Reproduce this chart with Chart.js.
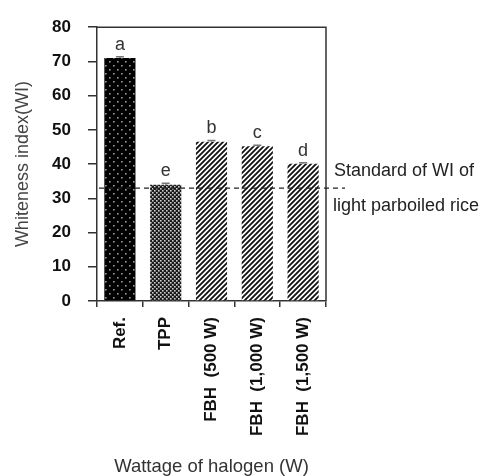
<!DOCTYPE html>
<html>
<head>
<meta charset="utf-8">
<script src="https://cdn.jsdelivr.net/npm/chart.js@4"></script>
<style>
  html, body { margin: 0; padding: 0; background: #fff; }
  #wrap { width: 481px; height: 476px; position: relative; }
</style>
</head>
<body>
<div id="wrap"><canvas id="grafico"></canvas></div>
<script>
// ===== DADOS =====
const categorias = ['Ref.', 'TPP', 'FBH  (500 W)', 'FBH  (1,000 W)', 'FBH  (1,500 W)'];
const valores    = [71.0, 34.0, 46.5, 45.2, 40.1];
const erros      = [0.4, 0.4, 0.4, 0.3, 0.3];
const letras     = ['a', 'e', 'b', 'c', 'd'];
const padraoWI   = 33;
const textoPadrao = ['Standard of WI of', 'light parboiled rice'];
const yTicks     = [0, 10, 20, 30, 40, 50, 60, 70, 80];

const FONTE = '"Liberation Sans", Arial, sans-serif';
const COR_EIXO = '#333';

// ===== PADRÕES (hachuras) =====
function tile(w, h, desenha) {
  const c = document.createElement('canvas');
  c.width = w; c.height = h;
  const g = c.getContext('2d');
  desenha(g);
  return c;
}

function padraoPontos(ctx) {
  // fundo preto com pontos cinza claros alternados
  const t = tile(8, 8, g => {
    g.fillStyle = '#000'; g.fillRect(0, 0, 8, 8);
    g.fillStyle = '#9a9a9a';
    g.fillRect(1, 1, 1.6, 1.6);
    g.fillRect(5, 5, 1.6, 1.6);
  });
  return ctx.createPattern(t, 'repeat');
}

function padraoDenso(ctx) {
  const t = tile(4, 4, g => {
    g.fillStyle = '#1a1a1a'; g.fillRect(0, 0, 4, 4);
    g.fillStyle = '#d0d0d0';
    g.fillRect(0, 0, 1.6, 1.6);
    g.fillRect(2, 2, 1.6, 1.6);
  });
  return ctx.createPattern(t, 'repeat');
}

function padraoListras(ctx) {
  const t = tile(5, 5, g => {
    g.fillStyle = '#fff'; g.fillRect(0, 0, 5, 5);
    g.strokeStyle = '#111';
    g.lineWidth = 1.8;
    g.beginPath();
    g.moveTo(-1, 6); g.lineTo(6, -1);
    g.moveTo(-1, 1); g.lineTo(1, -1);
    g.moveTo(4, 6); g.lineTo(6, 4);
    g.stroke();
  });
  return ctx.createPattern(t, 'repeat');
}

// ===== PLUGIN: letras, erro, linha padrão, moldura =====
const extras = {
  id: 'extras',
  afterDatasetsDraw(chart) {
    const ctx = chart.ctx;
    const { left, right, top, bottom } = chart.chartArea;
    const y = chart.scales.y;
    const meta = chart.getDatasetMeta(0);

    ctx.save();
    // moldura (topo e direita)
    ctx.strokeStyle = COR_EIXO;
    ctx.lineWidth = 1.5;
    ctx.beginPath();
    ctx.moveTo(left, top);
    ctx.lineTo(right, top);
    ctx.lineTo(right, bottom);
    ctx.stroke();

    // barras de erro + letras
    meta.data.forEach((bar, i) => {
      const yTop = y.getPixelForValue(valores[i] + erros[i]);
      const yVal = y.getPixelForValue(valores[i]);
      ctx.strokeStyle = '#777';
      ctx.lineWidth = 1.5;
      ctx.beginPath();
      ctx.moveTo(bar.x - 4, yTop);
      ctx.lineTo(bar.x + 4, yTop);
      ctx.moveTo(bar.x, yTop);
      ctx.lineTo(bar.x, yVal);
      ctx.stroke();

      ctx.fillStyle = '#333';
      ctx.font = '18px ' + FONTE;
      ctx.textAlign = 'center';
      ctx.textBaseline = 'alphabetic';
      ctx.fillText(letras[i], bar.x, yTop - 7);
    });

    // linha tracejada do padrão
    const yp = y.getPixelForValue(padraoWI);
    ctx.strokeStyle = '#222';
    ctx.lineWidth = 1.3;
    ctx.setLineDash([5, 4]);
    ctx.beginPath();
    ctx.moveTo(left + 2, yp);
    ctx.lineTo(right + 19, yp);
    ctx.stroke();
    ctx.setLineDash([]);

    // texto ao lado
    ctx.fillStyle = '#222';
    ctx.font = '18px ' + FONTE;
    ctx.textAlign = 'left';
    ctx.textBaseline = 'middle';
    ctx.fillText(textoPadrao[0], right + 8, yp - 17);
    ctx.fillText(textoPadrao[1], right + 7, yp + 18);
    ctx.restore();
  }
};

// ===== GRÁFICO =====
const canvas = document.getElementById('grafico');
const ctx = canvas.getContext('2d');
const fundos = [padraoPontos(ctx), padraoDenso(ctx), padraoListras(ctx), padraoListras(ctx), padraoListras(ctx)];

new Chart(ctx, {
  type: 'bar',
  data: {
    labels: categorias,
    datasets: [{
      data: valores,
      backgroundColor: fundos,
      borderWidth: 0,
      barPercentage: 0.68,
      categoryPercentage: 1.0,
    }]
  },
  options: {
    responsive: true,
    maintainAspectRatio: false,
    animation: false,
    events: [],
    layout: { padding: { top: 21, right: 155, left: 0, bottom: 0 } },
    plugins: {
      legend: { display: false },
      tooltip: { enabled: false },
    },
    scales: {
      x: {
        afterFit: s => { s.height = 175; },
        grid: {
          offset: true,
          drawOnChartArea: false,
          drawTicks: true,
          tickLength: 6,
          color: COR_EIXO,
          lineWidth: 1.5,
        },
        border: { display: true, color: COR_EIXO, width: 1.5 },
        ticks: {
          minRotation: 90,
          maxRotation: 90,
          padding: 10,
          color: '#111',
          font: { family: FONTE, size: 17, weight: 'bold' },
        },
        title: {
          display: true,
          text: 'Wattage of halogen (W)',
          color: '#333',
          font: { family: FONTE, size: 18.5, lineHeight: 1 },
          padding: { top: 0, bottom: 0 },
        },
      },
      y: {
        min: 0,
        max: 80,
        afterFit: s => { s.width = 97; },
        afterBuildTicks: s => { s.ticks = yTicks.map(v => ({ value: v })); },
        grid: {
          drawOnChartArea: false,
          drawTicks: true,
          tickLength: 9,
          color: COR_EIXO,
          lineWidth: 1.5,
        },
        border: { display: true, color: COR_EIXO, width: 1.5 },
        ticks: {
          padding: 17,
          color: '#111',
          font: { family: FONTE, size: 17, weight: 'bold' },
        },
        title: {
          display: true,
          text: 'Whiteness index(WI)',
          color: '#444',
          font: { family: FONTE, size: 18, lineHeight: 1 },
          padding: { top: 14, bottom: 0 },
        },
      }
    }
  },
  plugins: [extras]
});
</script>
</body>
</html>
